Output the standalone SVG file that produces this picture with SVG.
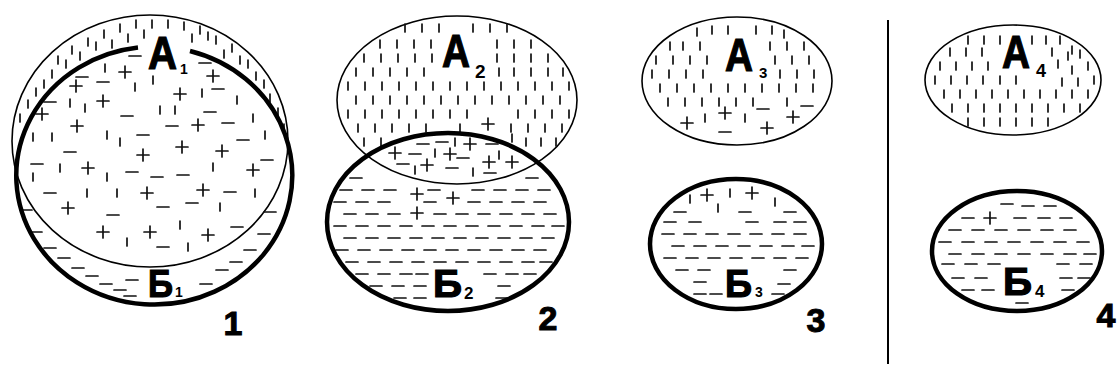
<svg xmlns="http://www.w3.org/2000/svg" width="1117" height="374" viewBox="0 0 1117 374">
<style>
.thin{fill:none;stroke:#000;stroke-width:1.6}
.thick{fill:none;stroke:#000;stroke-width:4.5}
.mk{fill:none;stroke:#111;stroke-width:1.7;stroke-linecap:round}
.lbl{font-family:"Liberation Sans",Arial,sans-serif;font-weight:bold;fill:#000}
.big{font-size:47px;stroke:#000;stroke-width:1.2}
.bb{font-size:38px;stroke:#000;stroke-width:1.2}
.num{font-size:34px;text-anchor:middle;stroke:#000;stroke-width:1}
</style>
<rect width="1117" height="374" fill="#fff"/>

<!-- Panel 1 -->
<g id="A1">
<ellipse class="thin" cx="150" cy="141" rx="138" ry="126"/>
<path class="mk" d="M20 114v8M28 100v8M36 88v8M44 80v8M52 70v8M58 56v8M66 60v8M72 46v8M80 52v8M88 38v8M96 42v8M104 30v8M112 40v8M120 24v8M128 34v8M136 20v8M144 30v8M152 20v8M168 20v8M184 22v8M192 34v8M200 26v8M208 32v8M216 36v8M224 50v8M232 44v8M240 56v8M248 60v8M256 72v8M264 80v8M270 94v8M278 108v8M284 124v8"/>
<text class="lbl big" x="148" y="69" textLength="29" lengthAdjust="spacingAndGlyphs">А</text>
<text class="lbl" style="font-size:14px" x="180" y="74">1</text>
</g>
<g id="A1B1-overlap">
<path class="mk" d="M105 64v8M135 83v8M153 76v8M202 89v8M237 96v8M70 99v8M85 104v8M160 106v8M175 106v8M253 114v8M33 133v8M52 133v8M107 131v8M120 138v8M265 131v8M60 164v8M107 173v8M213 163v8M33 173v8M87 189v8M117 189v8M255 189v8M220 203v8M127 238v8M180 221v8M188 243v8"/>
<path class="mk" d="M129 56h12M199 63h12M76 77h12M97 82h12M212 89h12M44 102h12M121 116h12M204 112h12M166 126h12M222 123h12M137 135h12M237 140h12M64 152h12M31 164h12M126 172h12M151 177h12M177 175h12M261 160h12M44 193h12M224 192h12M157 207h12M186 203h12M107 215h12M231 227h12M157 247h12"/>
<path class="mk" d="M119 72h12M125 66v12M207 76h12M213 70v12M70 86h12M76 80v12M174 94h12M180 88v12M97 101h12M103 95v12M36 114h12M42 108v12M71 126h12M77 120v12M192 125h12M198 119v12M176 147h12M182 141v12M216 151h12M222 145v12M137 155h12M143 149v12M82 168h12M88 162v12M247 170h12M253 164v12M141 193h12M147 187v12M197 190h12M203 184v12M62 208h12M68 202v12M97 232h12M103 226v12M144 232h12M150 226v12M202 235h12M208 229v12"/>
</g>
<g id="B1">
<path class="mk" d="M20 210h12M30 232h12M44 248h12M58 258h12M72 268h12M86 276h12M100 284h12M114 290h12M126 280h12M124 296h12M200 284h12M216 270h12M230 262h12M244 250h12M258 234h12M264 212h12"/>
<path class="thick" d="M190 51 A138 129 0 1 1 138 47.5"/>
<text class="lbl bb" x="148" y="297" textLength="25" lengthAdjust="spacingAndGlyphs">Б</text>
<text class="lbl" style="font-size:14px" x="175" y="297">1</text>
</g>
<text class="lbl num" x="233" y="335">1</text>

<!-- Panel 2 -->
<g id="A2">
<ellipse class="thin" cx="457" cy="100" rx="120" ry="84"/>
<path class="mk" d="M405 24v8M422 24v8M439 24v8M473 24v8M490 24v8M507 24v8M380 40v8M397 40v8M414 40v8M431 40v8M497 40v8M514 40v8M531 40v8M364 54v8M381 54v8M398 54v8M415 54v8M432 54v8M497 54v8M514 54v8M531 54v8M548 54v8M356 68v8M373 68v8M390 68v8M407 68v8M424 68v8M499 68v8M514 68v8M531 68v8M548 68v8M563 68v8M348 82v8M365 82v8M382 82v8M399 82v8M416 82v8M433 82v8M450 82v8M467 82v8M484 82v8M501 82v8M518 82v8M535 82v8M552 82v8M569 82v8M356 96v8M373 96v8M390 96v8M407 96v8M424 96v8M441 96v8M458 96v8M475 96v8M492 96v8M509 96v8M526 96v8M543 96v8M560 96v8M348 110v8M365 110v8M382 110v8M399 110v8M416 110v8M433 110v8M450 110v8M467 110v8M518 110v8M535 110v8M552 110v8M569 110v8M358 124v8M375 124v8M392 124v8M409 124v8M426 124v8M460 124v8M511 124v8M528 124v8M545 124v8M562 124v8M364 138v8M381 138v8M512 134v8M526 138v8M541 138v8M556 138v8"/>
<path class="mk" d="M482 124h12M488 118v12"/>
<text class="lbl big" x="442" y="67" textLength="28" lengthAdjust="spacingAndGlyphs">А</text>
<text class="lbl" style="font-size:19px" x="475" y="78">2</text>
</g>
<g id="A2B2-overlap">
<path class="mk" d="M389 153h12M395 147v12M444 154h12M450 148v12M464 144h12M470 138v12M421 165h12M427 159v12M483 162h12M489 156v12M506 162h12M512 156v12"/>
<path class="mk" d="M417 144h12M436 142h12M409 154h12M457 158h12M397 164h12M446 168h12M484 173h12M486 144h12"/>
<path class="mk" d="M455 138v8M435 149v8M499 151v8M473 168v8M415 166v8"/>
</g>
<g id="B2">
<path class="mk" d="M350 178h12M526 178h12M340 190h12M362 190h12M384 190h12M428 190h12M472 190h12M494 190h12M516 190h12M538 190h12M334 202h12M356 202h12M378 202h12M424 202h12M468 202h12M490 202h12M512 202h12M534 202h12M344 214h12M366 214h12M388 214h12M434 214h12M456 214h12M478 214h12M500 214h12M522 214h12M544 214h12M334 226h12M356 226h12M378 226h12M400 226h12M422 226h12M444 226h12M466 226h12M488 226h12M510 226h12M532 226h12M552 226h12M344 238h12M366 238h12M388 238h12M410 238h12M432 238h12M454 238h12M476 238h12M498 238h12M520 238h12M542 238h12M336 250h12M358 250h12M380 250h12M402 250h12M424 250h12M446 250h12M468 250h12M490 250h12M512 250h12M534 250h12M346 262h12M368 262h12M390 262h12M412 262h12M434 262h12M456 262h12M478 262h12M500 262h12M522 262h12M540 262h12M356 274h12M378 274h12M400 274h12M416 274h12M484 274h12M506 274h12M524 274h12M370 286h12M392 286h12M414 286h12M498 286h12M394 298h12M414 298h12M496 298h12"/>
<path class="mk" d="M411 194h12M417 188v12M447 198h12M453 192v12M411 213h12M417 207v12"/>
<ellipse class="thick" cx="448" cy="222" rx="121" ry="89"/>
<text class="lbl bb" x="433" y="297" textLength="29" lengthAdjust="spacingAndGlyphs">Б</text>
<text class="lbl" style="font-size:17px" x="464" y="299">2</text>
</g>
<text class="lbl num" x="548" y="330">2</text>

<!-- Panel 3 -->
<g id="A3">
<ellipse class="thin" cx="737" cy="81" rx="95" ry="64"/>
<path class="mk" d="M697 28v8M712 26v8M728 26v8M756 26v8M772 26v8M784 30v8M670 42v8M683 42v8M700 42v8M770 42v8M787 42v8M804 42v8M656 56v8M673 56v8M690 56v8M707 56v8M775 56v8M792 56v8M809 56v8M652 70v8M669 70v8M686 70v8M703 70v8M780 70v8M797 70v8M814 70v8M660 84v8M677 84v8M694 84v8M711 84v8M728 84v8M745 84v8M762 84v8M779 84v8M796 84v8M813 84v8M668 98v8M685 98v8M702 98v8M719 98v8M736 98v8M753 98v8M787 98v8M705 114v8M745 114v8"/>
<path class="mk" d="M681 123h12M687 117v12M719 113h12M725 107v12M761 128h12M767 122v12M787 117h12M793 111v12M757 109h12M719 132h12M801 106h12"/>
<text class="lbl big" x="725" y="71" textLength="28" lengthAdjust="spacingAndGlyphs">А</text>
<text class="lbl" style="font-size:15px" x="759" y="78">3</text>
</g>
<g id="B3">
<path class="mk" d="M701 195h12M707 189v12M746 193h12M752 187v12M690 195v8M730 189v8M718 204v8M775 198v8"/>
<path class="mk" d="M674 212h12M739 212h12M784 212h12M664 222h12M689 222h12M746 222h12M774 222h12M794 222h12M662 234h12M684 234h12M706 234h12M728 234h12M750 234h12M772 234h12M794 234h12M672 246h12M694 246h12M716 246h12M738 246h12M760 246h12M782 246h12M802 246h12M664 258h12M686 258h12M708 258h12M730 258h12M752 258h12M774 258h12M796 258h12M676 270h12M698 270h12M784 270h12M694 282h12M778 284h12M694 294h12M710 294h12M772 294h12"/>
<ellipse class="thick" cx="736" cy="244" rx="86" ry="65"/>
<text class="lbl bb" x="725" y="297" textLength="27" lengthAdjust="spacingAndGlyphs">Б</text>
<text class="lbl" style="font-size:14px" x="755" y="297">3</text>
</g>
<text class="lbl num" x="816" y="332">3</text>

<!-- Divider -->
<g id="divider">
<path d="M888 20V364" fill="none" stroke="#000" stroke-width="2"/>
</g>

<!-- Panel 4 -->
<g id="A4">
<ellipse class="thin" cx="1013" cy="80" rx="88" ry="55"/>
<path class="mk" d="M968 36v8M984 36v8M1000 36v8M1032 36v8M1046 36v8M1060 36v8M1072 46v8M950 48v8M966 48v8M982 48v8M1052 48v8M1068 52v8M1080 50v8M940 62v8M956 62v8M972 62v8M988 62v8M1058 60v8M1072 66v8M1088 62v8M935 76v8M951 76v8M967 76v8M983 76v8M1000 76v8M1016 76v8M1062 78v8M1078 78v8M1094 76v8M944 90v8M960 90v8M976 90v8M992 90v8M1008 90v8M1024 90v8M1040 90v8M1056 90v8M1072 90v8M1088 90v8M952 104v8M968 104v8M984 104v8M1000 104v8M1016 104v8M1032 104v8M1048 104v8M1064 104v8M1080 104v8M968 118v8M984 118v8M1000 118v8M1016 118v8M1032 118v8M1048 118v8"/>
<text class="lbl big" x="1002" y="68" textLength="28" lengthAdjust="spacingAndGlyphs">А</text>
<text class="lbl" style="font-size:18px" x="1036" y="77">4</text>
</g>
<g id="B4">
<path class="mk" d="M1001 204h12M1022 206h12M1044 206h12M962 218h12M1014 218h12M1038 218h12M1060 218h12M949 230h12M972 230h12M995 230h12M1018 230h12M1041 230h12M1064 230h12M939 242h12M962 242h12M985 242h12M1008 242h12M1031 242h12M1054 242h12M1077 242h12M949 254h12M972 254h12M995 254h12M1018 254h12M1041 254h12M1064 254h12M1084 254h12M942 264h12M965 264h12M988 264h12M1057 264h12M1080 264h12M952 278h12M975 278h12M1060 278h12M1078 278h12M962 290h12M982 290h12M1062 290h12M1016 303h12"/>
<path class="mk" d="M984 218h12M990 212v12"/>
<ellipse class="thick" cx="1017" cy="251" rx="85" ry="60"/>
<text class="lbl bb" x="1003" y="295" textLength="29" lengthAdjust="spacingAndGlyphs">Б</text>
<text class="lbl" style="font-size:17px" x="1035" y="297">4</text>
</g>
<text class="lbl num" x="1106" y="327">4</text>

<g id="connectors"/>
</svg>
